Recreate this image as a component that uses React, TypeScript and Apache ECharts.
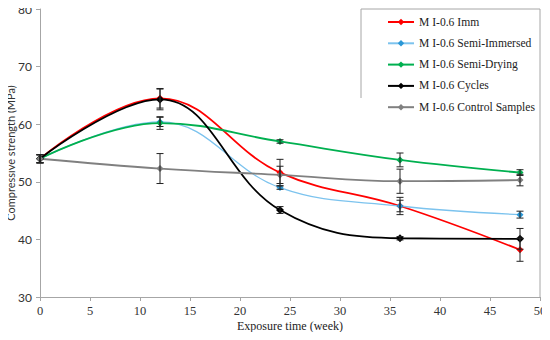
import React, { useEffect, useRef } from "react";
import * as echarts from "echarts";

const weeks = [0, 12, 24, 36, 48];

const seriesNames = [
  "M I-0.6 Imm",
  "M I-0.6 Semi-Immersed",
  "M I-0.6 Semi-Drying",
  "M I-0.6 Cycles",
  "M I-0.6 Control Samples",
];

const immValues = [54.0, 64.5, 51.6, 45.8, 38.2];
const semiImmValues = [54.0, 60.4, 49.0, 45.8, 44.3];
const semiDryValues = [54.0, 60.2, 57.0, 53.8, 51.6];
const cyclesValues = [54.0, 64.3, 45.1, 40.2, 40.1];
const controlValues = [54.0, 52.3, 51.2, 50.1, 50.3];

const immErr = [0.7, 1.7, 2.3, 1.5, 2.0];
const semiImmErr = [0.7, 0.8, 0.3, 1.0, 0.6];
const semiDryErr = [0.7, 1.1, 0.3, 1.2, 0.5];
const cyclesErr = [0.7, 1.8, 0.6, 0.3, 1.8];
const controlErr = [0.7, 2.6, 1.5, 2.1, 1.0];

const xTicks = [0, 50, 5];
const yTicks = [30, 80, 10];

const lineColors = ["#FF0000", "#7CC3EE", "#00B050", "#000000", "#808080"];
const markerColors = ["#FF0000", "#2A97D6", "#00B050", "#000000", "#808080"];

export default function App() {
  const ref = useRef<HTMLDivElement>(null);
  useEffect(() => {
    if (!ref.current) return;
    const chart = echarts.init(ref.current, null, { renderer: "svg" });
    const values = [immValues, semiImmValues, semiDryValues, cyclesValues, controlValues];
    const errs = [immErr, semiImmErr, semiDryErr, cyclesErr, controlErr];

    const lineSeries = values.map((vals, i) => ({
      name: seriesNames[i],
      type: "line",
      smooth: 0.4,
      data: weeks.map((w, j) => [w, vals[j]]),
      symbol: "diamond",
      symbolSize: i === 3 ? 8 : 7,
      lineStyle: { color: lineColors[i], width: i === 1 ? 1.3 : 1.8 },
      itemStyle: { color: markerColors[i] },
      z: 2,
    }));

    const errSeries = values.map((vals, i) => ({
      name: seriesNames[i] + " err",
      type: "custom",
      data: weeks.map((w, j) => [w, vals[j] - errs[i][j], vals[j] + errs[i][j]]),
      renderItem: (params: any, api: any) => {
        const x = api.value(0);
        const lo = api.coord([x, api.value(1)]);
        const hi = api.coord([x, api.value(2)]);
        const cap = 3.5;
        const style = { stroke: "#222", lineWidth: 1 };
        return {
          type: "group",
          children: [
            { type: "line", shape: { x1: lo[0], y1: lo[1], x2: hi[0], y2: hi[1] }, style },
            { type: "line", shape: { x1: lo[0] - cap, y1: lo[1], x2: lo[0] + cap, y2: lo[1] }, style },
            { type: "line", shape: { x1: hi[0] - cap, y1: hi[1], x2: hi[0] + cap, y2: hi[1] }, style },
          ],
        };
      },
      z: 3,
      silent: true,
    }));

    chart.setOption({
      animation: false,
      backgroundColor: "#ffffff",
      grid: { left: 40, right: 10, top: 9, bottom: 43, containLabel: false, outerBoundsMode: "none" },
      legend: {
        data: seriesNames,
        orient: "vertical",
        left: 387,
        top: 15,
        padding: 0,
        itemWidth: 26,
        itemHeight: 8,
        itemGap: 7.3,
        textStyle: { fontFamily: "Liberation Serif", fontSize: 11.6, color: "#222", lineHeight: 14 },
      },
      xAxis: {
        type: "value",
        min: xTicks[0],
        max: xTicks[1],
        interval: xTicks[2],
        name: "Exposure time (week)",
        nameLocation: "middle",
        nameGap: 23,
        nameMoveOverlap: false,
        nameTextStyle: { fontFamily: "Liberation Serif", fontSize: 12, color: "#222" },
        axisLine: { lineStyle: { color: "#A6A6A6" } },
        axisTick: { show: true, length: 4, lineStyle: { color: "#A6A6A6" } },
        axisLabel: { fontFamily: "Liberation Serif", fontSize: 12.5, color: "#333", margin: 7 },
        splitLine: { show: false },
      },
      yAxis: {
        type: "value",
        min: yTicks[0],
        max: yTicks[1],
        interval: yTicks[2],
        name: "Compressive strength (MPa)",
        nameLocation: "middle",
        nameGap: 24,
        nameMoveOverlap: false,
        nameTextStyle: { fontFamily: "Lato", fontSize: 11, color: "#333" },
        axisLine: { show: true, lineStyle: { color: "#A6A6A6" } },
        axisTick: { show: true, length: 4, lineStyle: { color: "#A6A6A6" } },
        axisLabel: { fontFamily: "Lato", fontSize: 12, color: "#333", margin: 8 },
        splitLine: { show: false },
      },
      graphic: [
        {
          type: "polyline",
          shape: { points: [[361, 98], [361, 9], [540, 9], [540, 297]] },
          style: { stroke: "#A6A6A6", fill: "none", lineWidth: 1 },
          silent: true,
        },
      ],
      series: [...lineSeries, ...errSeries],
    });
    return () => chart.dispose();
  }, []);
  return <div ref={ref} style={{ width: 550, height: 340, margin: -8 }} />;
}
